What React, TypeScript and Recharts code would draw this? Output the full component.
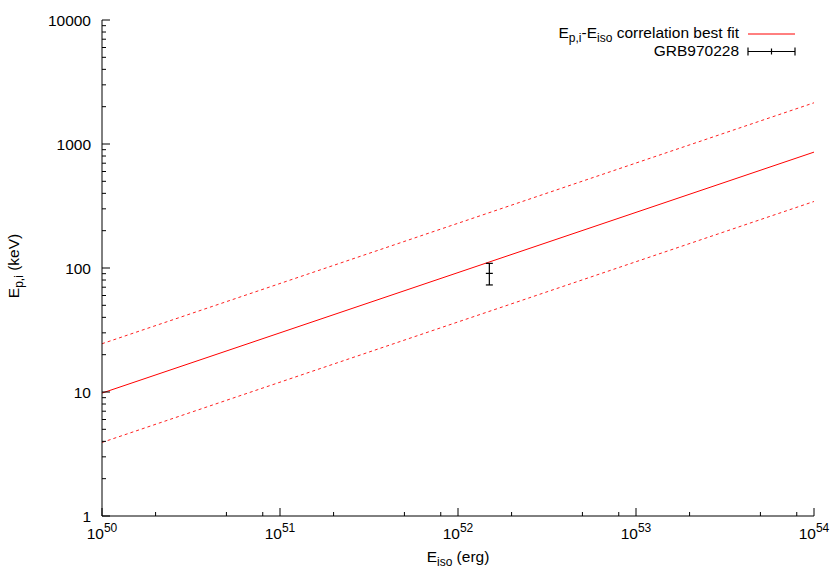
import { ComposedChart, ErrorBar, Line, Scatter, XAxis, YAxis } from 'recharts';

// Amati relation: best fit and the +/- band (dashed), evaluated at the x-range ends
const fitEnergy = [1e50, 1e54];
const bestFit = [9.8, 860];
const upperBound = [24.5, 2150];
const lowerBound = [3.92, 344];

// GRB970228 point
const grbEiso = [1.5e52];
const grbEpi = [90.5];
const grbErrLow = [17.5];
const grbErrHigh = [18.5];

const xDecades = [50, 51, 52, 53, 54];
const xMinorSteps = [2, 5, 8];
const yDecades = [0, 1, 2, 3, 4];
const yMinorSteps = [2, 3, 4, 5, 6, 7, 8, 9];

const FONT = '"Liberation Sans", Arial, Helvetica, sans-serif';
const FS = 15.5;

const buildTicks = (decades: number[], steps: number[]) => {
  const ticks: number[] = [];
  decades.forEach((d, i) => {
    ticks.push(Math.pow(10, d));
    if (i < decades.length - 1) steps.forEach((s) => ticks.push(s * Math.pow(10, d)));
  });
  return ticks;
};

const xTicks = buildTicks(xDecades, xMinorSteps);
const yTicks = buildTicks(yDecades, yMinorSteps);

const fitData = fitEnergy.map((e, i) => ({
  eiso: e,
  fit: bestFit[i],
  upper: upperBound[i],
  lower: lowerBound[i],
}));

const grbData = grbEiso.map((e, i) => ({
  eiso: e,
  epi: grbEpi[i],
  err: [grbErrLow[i], grbErrHigh[i]],
}));

const isMajor = (v: number) => {
  const e = Math.log10(v);
  return Math.abs(e - Math.round(e)) < 1e-6;
};

const BottomTick = (props: any) => {
  const { x, y, payload } = props;
  const major = isMajor(payload.value);
  return (
    <g>
      <line x1={x} x2={x} y1={y} y2={y - (major ? 8 : 4)} stroke="#000" />
      {major && (
        <text x={x} y={y + 23} textAnchor="middle" fontSize={FS} fontFamily={FONT} fill="#000">
          10
          <tspan dy={-7} fontSize={12}>
            {Math.round(Math.log10(payload.value))}
          </tspan>
        </text>
      )}
    </g>
  );
};

const TopTick = (props: any) => {
  const { x, y, payload } = props;
  const major = isMajor(payload.value);
  return <line x1={x} x2={x} y1={y} y2={y + (major ? 8 : 4)} stroke="#000" />;
};

const LeftTick = (props: any) => {
  const { x, y, payload } = props;
  const major = isMajor(payload.value);
  return (
    <g>
      <line x1={x} x2={x + (major ? 8 : 4)} y1={y} y2={y} stroke="#000" />
      {major && (
        <text
          x={x - 11}
          y={y}
          dy={5.5}
          textAnchor="end"
          fontSize={FS}
          fontFamily={FONT}
          fill="#000">
          {Math.round(payload.value)}
        </text>
      )}
    </g>
  );
};

const RightTick = (props: any) => {
  const { x, y, payload } = props;
  const major = isMajor(payload.value);
  return <line x1={x} x2={x - (major ? 8 : 4)} y1={y} y2={y} stroke="#000" />;
};

const GrbPoint = (props: any) => {
  const { cx, cy } = props;
  return <line x1={cx - 3.5} x2={cx + 3.5} y1={cy} y2={cy} stroke="#000" strokeWidth={1.2} />;
};

export default function App() {
  return (
    <div style={{ position: 'absolute', left: 0, top: 0, width: 830, height: 581, background: '#fff' }}>
      <ComposedChart
        width={830}
        height={581}
        data={fitData}
        margin={{ top: 20, right: 16, bottom: 0, left: 0 }}>
        <XAxis
          dataKey="eiso"
          type="number"
          scale="log"
          domain={[1e50, 1e54]}
          allowDataOverflow
          ticks={xTicks}
          interval={0}
          height={65}
          tickSize={0}
          tickMargin={0}
          tickLine={false}
          axisLine={{ stroke: '#000' }}
          tick={<BottomTick />}
        />
        <XAxis
          xAxisId="top"
          orientation="top"
          dataKey="eiso"
          type="number"
          scale="log"
          domain={[1e50, 1e54]}
          allowDataOverflow
          ticks={xTicks}
          interval={0}
          height={0}
          tickSize={0}
          tickMargin={0}
          tickLine={false}
          axisLine={{ stroke: '#000' }}
          tick={<TopTick />}
        />
        <YAxis
          type="number"
          scale="log"
          domain={[1, 10000]}
          allowDataOverflow
          ticks={yTicks}
          interval={0}
          width={102}
          tickSize={0}
          tickMargin={0}
          tickLine={false}
          axisLine={{ stroke: '#000' }}
          tick={<LeftTick />}
        />
        <YAxis
          yAxisId="right"
          orientation="right"
          type="number"
          scale="log"
          domain={[1, 10000]}
          allowDataOverflow
          ticks={yTicks}
          interval={0}
          width={0}
          tickSize={0}
          tickMargin={0}
          tickLine={false}
          axisLine={{ stroke: '#000' }}
          tick={<RightTick />}
        />
        <Line
          dataKey="upper"
          stroke="#ff2020"
          strokeDasharray="3 3"
          strokeWidth={1}
          dot={false}
          isAnimationActive={false}
        />
        <Line
          dataKey="lower"
          stroke="#ff2020"
          strokeDasharray="3 3"
          strokeWidth={1}
          dot={false}
          isAnimationActive={false}
        />
        <Line dataKey="fit" stroke="#ff0000" strokeWidth={1} dot={false} isAnimationActive={false} />
        <Scatter data={grbData} dataKey="epi" shape={<GrbPoint />} isAnimationActive={false}>
          <ErrorBar dataKey="err" direction="y" width={3.5} stroke="#000" strokeWidth={1.2} />
        </Scatter>
      </ComposedChart>

      <svg
        width={830}
        height={581}
        style={{ position: 'absolute', left: 0, top: 0, pointerEvents: 'none' }}
        fontFamily={FONT}
        fontSize={FS}>
        {/* axis titles */}
        <text x={458} y={562} textAnchor="middle" fill="#000">
          E
          <tspan dy={4} fontSize={12}>
            iso
          </tspan>
          <tspan dy={-4}> (erg)</tspan>
        </text>
        <text x={0} y={0} textAnchor="middle" fill="#000" transform="translate(19,266) rotate(-90)">
          E
          <tspan dy={4} fontSize={12}>
            p,i
          </tspan>
          <tspan dy={-4}> (keV)</tspan>
        </text>

        {/* key */}
        <text x={739} y={38} textAnchor="end" fill="#000">
          E
          <tspan dy={4} fontSize={12}>
            p,i
          </tspan>
          <tspan dy={-4}>-E</tspan>
          <tspan dy={4} fontSize={12}>
            iso
          </tspan>
          <tspan dy={-4}> correlation best fit</tspan>
        </text>
        <line x1={748} x2={795} y1={34} y2={34} stroke="#ff0000" />
        <text x={739} y={56} textAnchor="end" fill="#000">
          GRB970228
        </text>
        <g stroke="#000" strokeWidth={1.2}>
          <line x1={748} x2={795} y1={51.5} y2={51.5} />
          <line x1={748} x2={748} y1={47.5} y2={55.5} />
          <line x1={795} x2={795} y1={47.5} y2={55.5} />
          <line x1={771.5} x2={771.5} y1={48.5} y2={54.5} />
        </g>
      </svg>
    </div>
  );
}
